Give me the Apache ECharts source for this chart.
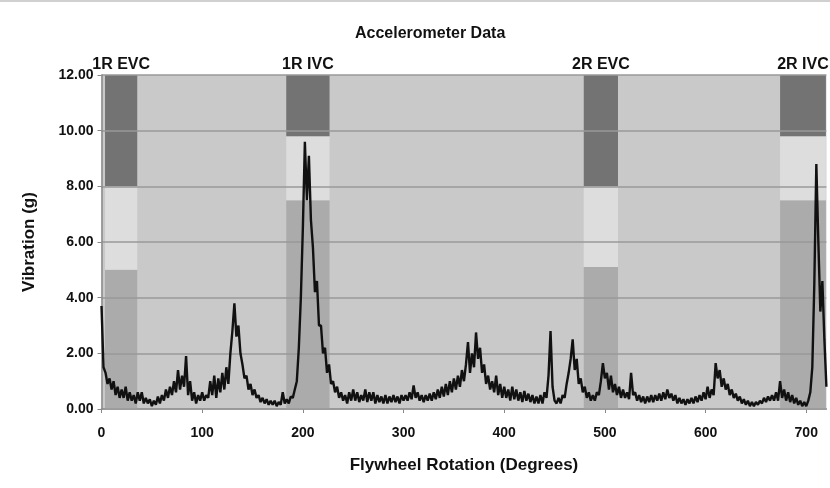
<!DOCTYPE html>
<html>
<head>
<meta charset="utf-8">
<script src="https://cdn.jsdelivr.net/npm/echarts@6/dist/echarts.min.js"></script>
<style>
  html, body { margin: 0; padding: 0; background: #fff; }
  #chart { width: 830px; height: 488px; }
</style>
</head>
<body>
<div id="chart"></div>
<script>
// valve event windows (degrees) and the three shaded levels of each window
const bandNames = ['1R EVC', '1R IVC', '2R EVC', '2R IVC']
const bandStart = [3.5, 183.5, 479, 674]
const bandEnd = [35.5, 226.5, 513, 719.5]
const lowTop = [5.0, 7.5, 5.1, 7.5]
const midTop = [8.0, 9.8, 8.0, 9.8]
const bandTop = 12

// vibration trace, one reading every 2 degrees from 0 to 720
const stepDeg = 2
const vibration = [
  3.7, 1.5, 1.3, 0.9, 1.1,   0.7, 1.0, 0.5, 0.8, 0.4,
  0.7, 0.4, 0.8, 0.3, 0.6,   0.3, 0.5, 0.2, 0.6, 0.3,
  0.6, 0.2, 0.4, 0.2, 0.35,  0.1, 0.3, 0.15, 0.45, 0.2,
  0.5, 0.3, 0.7, 0.4, 0.8,   0.5, 1.0, 0.6, 1.4, 0.7,
  1.2, 0.8, 1.9, 0.5, 1.0,   0.3, 0.6, 0.2, 0.5, 0.3,
  0.6, 0.3, 0.5, 0.4, 1.0,   0.5, 1.2, 0.4, 1.1, 0.6,
  1.3, 0.7, 1.5, 0.9, 2.0,   2.8, 3.8, 2.6, 3.0, 2.0,
  1.6, 1.1, 1.2, 0.7, 0.9,   0.5, 0.7, 0.4, 0.5, 0.25,
  0.4, 0.2, 0.35, 0.15, 0.3, 0.15, 0.3, 0.1, 0.25, 0.15,
  0.6, 0.2, 0.35, 0.2, 0.45, 0.4, 0.7, 1.0, 2.2, 4.0,
  6.5, 9.6, 7.5, 9.1, 6.8,   5.8, 4.2, 4.6, 3.0, 3.0,
  2.0, 2.2, 1.3, 1.6, 0.9,   1.0, 0.6, 0.8, 0.4, 0.6,
  0.3, 0.5, 0.2, 0.6, 0.3,   0.7, 0.3, 0.6, 0.25, 0.5,
  0.3, 0.7, 0.25, 0.6, 0.3,  0.6, 0.2, 0.5, 0.25, 0.45,
  0.2, 0.5, 0.2, 0.45, 0.25, 0.5, 0.25, 0.45, 0.2, 0.5,
  0.3, 0.5, 0.3, 0.6, 0.35,  0.85, 0.4, 0.6, 0.3, 0.5,
  0.25, 0.5, 0.3, 0.55, 0.3, 0.6, 0.35, 0.7, 0.4, 0.8,
  0.45, 0.9, 0.5, 1.0, 0.6,  1.1, 0.7, 1.2, 0.8, 1.4,
  1.0, 1.6, 2.4, 1.3, 2.0,   1.5, 2.75, 1.8, 2.2, 1.3,
  1.6, 0.9, 1.2, 0.7, 1.0,   0.6, 1.2, 0.5, 0.9, 0.4,
  0.8, 0.4, 0.7, 0.3, 0.8,   0.35, 0.7, 0.3, 0.6, 0.25,
  0.65, 0.3, 0.55, 0.25, 0.5, 0.2, 0.45, 0.2, 0.5, 0.2,
  0.6, 0.4, 1.2, 2.8, 0.8,   0.3, 0.2, 0.4, 0.2, 0.5,
  0.4, 0.9, 1.3, 1.8, 2.5,   1.4, 1.8, 0.9, 1.1, 0.6,
  0.8, 0.4, 0.6, 0.3, 0.5,   0.3, 0.6, 0.5, 1.0, 1.65,
  1.1, 1.3, 0.7, 1.2, 0.6,   0.9, 0.5, 0.8, 0.4, 0.7,
  0.4, 0.6, 0.35, 1.3, 0.5,  0.6, 0.3, 0.5, 0.25, 0.45,
  0.2, 0.45, 0.25, 0.5, 0.25, 0.5, 0.3, 0.55, 0.3, 0.6,
  0.35, 0.7, 0.4, 0.55, 0.3, 0.5, 0.2, 0.4, 0.2, 0.35,
  0.15, 0.35, 0.2, 0.4, 0.2, 0.45, 0.25, 0.5, 0.3, 0.6,
  0.35, 0.8, 0.4, 0.7, 0.5,  1.65, 1.1, 1.4, 0.8, 1.1,
  0.7, 0.9, 0.5, 0.7, 0.4,   0.55, 0.3, 0.45, 0.2, 0.35,
  0.15, 0.3, 0.1, 0.25, 0.1, 0.25, 0.15, 0.3, 0.2, 0.4,
  0.25, 0.45, 0.3, 0.5, 0.3, 0.6, 0.3, 1.0, 0.4, 0.7,
  0.3, 0.6, 0.25, 0.5, 0.2,  0.4, 0.15, 0.3, 0.1, 0.25,
  0.1, 0.3, 0.6, 1.5, 4.5,   8.8, 6.0, 3.5, 4.6, 2.5,
  0.8
]

const yTicks = { min: 0, max: 12, interval: 2 }
const xTicks = { min: 0, max: 720, interval: 100 }

const levelColors = ['#ababab', '#dddddd', '#737373']
const font = "'Liberation Sans', Arial, sans-serif"

// each band split into three rectangles: [start, end, bottom, top, level, name]
const bandRects = []
bandNames.forEach((name, i) => {
  bandRects.push([bandStart[i], bandEnd[i], 0, lowTop[i], 0, ''])
  bandRects.push([bandStart[i], bandEnd[i], lowTop[i], midTop[i], 1, ''])
  bandRects.push([bandStart[i], bandEnd[i], midTop[i], bandTop, 2, name])
})

const trace = vibration.map((v, i) => [i * stepDeg, v])

const chart = echarts.init(document.getElementById('chart'))
chart.setOption({
  animation: false,
  title: {
    text: 'Accelerometer Data',
    left: 350,
    top: 21,
    textStyle: { fontFamily: font, fontWeight: 'bold', fontSize: 16, color: '#111' }
  },
  graphic: [{
    type: 'line',
    shape: { x1: 0, y1: 1, x2: 830, y2: 1 },
    style: { stroke: '#d0d0d0', lineWidth: 2 }
  }],
  grid: {
    left: 101.5,
    right: 3.6,
    top: 75,
    bottom: 79,
    show: true,
    backgroundColor: '#c9c9c9',
    borderWidth: 0
  },
  xAxis: {
    type: 'value',
    min: xTicks.min,
    max: xTicks.max,
    interval: xTicks.interval,
    name: 'Flywheel Rotation (Degrees)',
    nameLocation: 'middle',
    nameGap: 48,
    nameTextStyle: { fontFamily: font, fontWeight: 'bold', fontSize: 17, color: '#111' },
    axisLine: { lineStyle: { color: '#888', width: 1.5 } },
    axisTick: { show: true, length: 4, lineStyle: { color: '#888' } },
    axisLabel: { showMaxLabel: false, margin: 17, fontFamily: font, fontWeight: 'bold', fontSize: 14, color: '#111' },
    splitLine: { show: false }
  },
  yAxis: {
    type: 'value',
    min: yTicks.min,
    max: yTicks.max,
    interval: yTicks.interval,
    z: 1.5,
    name: 'Vibration (g)',
    nameLocation: 'middle',
    nameGap: 64,
    nameTextStyle: { fontFamily: font, fontWeight: 'bold', fontSize: 17, color: '#111' },
    axisLine: { show: true, lineStyle: { color: '#888', width: 1.5 } },
    axisTick: { show: true, length: 4, lineStyle: { color: '#888' } },
    axisLabel: {
      margin: 8,
      fontFamily: font,
      fontWeight: 'bold',
      fontSize: 14,
      color: '#111',
      formatter: v => v.toFixed(2)
    },
    splitLine: { show: true, lineStyle: { color: '#999', width: 1.5 } }
  },
  series: [
    {
      type: 'custom',
      z: 1,
      clip: false,
      data: bandRects,
      encode: { x: [0, 1], y: [2, 3] },
      renderItem: (params, api) => {
        const p0 = api.coord([api.value(0), api.value(3)])
        const p1 = api.coord([api.value(1), api.value(2)])
        const children = [{
          type: 'rect',
          shape: { x: p0[0], y: p0[1], width: p1[0] - p0[0], height: p1[1] - p0[1] },
          style: { fill: levelColors[api.value(4)] }
        }]
        const name = bandRects[params.dataIndex][5]
        if (name) {
          children.push({
            type: 'text',
            x: (p0[0] + p1[0]) / 2,
            y: p0[1] - 2,
            style: {
              text: name,
              align: 'center',
              verticalAlign: 'bottom',
              fontFamily: font,
              fontWeight: 'bold',
              fontSize: 16,
              fill: '#111'
            }
          })
        }
        return { type: 'group', children: children }
      }
    },
    {
      type: 'line',
      z: 3,
      data: trace,
      showSymbol: false,
      sampling: null,
      lineStyle: { color: '#111', width: 2.4 }
    }
  ]
})
</script>
</body>
</html>
